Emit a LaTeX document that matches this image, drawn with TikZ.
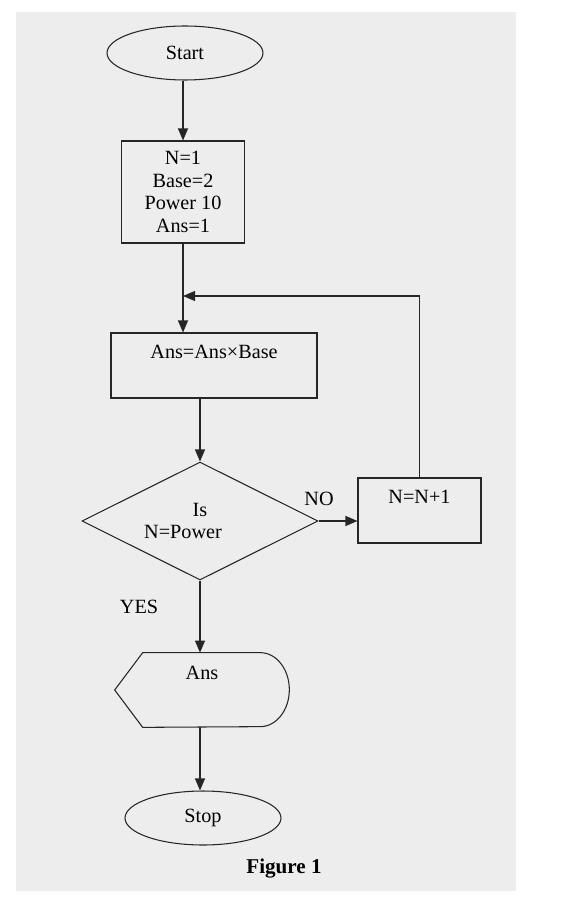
\documentclass[tikz,border=0pt]{standalone}
\usepackage{fontspec}
\setmainfont{Liberation Serif}
\usepackage{tikz}
\usetikzlibrary{shapes.geometric,arrows.meta,calc}
\tikzset{
  flow/.style={draw=black!85, line width=0.6pt},
  term/.style={flow, ellipse, minimum width=3.12cm, minimum height=1.08cm, inner sep=0pt},
  proc/.style={flow, rectangle, inner sep=0pt},
  toptext/.style={text height=0.5cm, text depth=0.8cm},
  arr/.style={flow, -{Triangle[length=0.24cm,width=0.2cm]}},
}

\begin{document}
\begin{tikzpicture}[x=0.02cm, y=-0.02cm, font=\fontsize{11.5}{12.8}\selectfont]
\useasboundingbox (0,0) rectangle (575,915);
\fill[black!7] (16,12) rectangle (516,891);
\node[term] (start) at (185,53) {Start};
\node[proc, minimum width=2.46cm, minimum height=2.04cm, align=center] (init) at (183,192) {N=1\\Base=2\\Power 10\\Ans=1};
\node[proc, toptext, minimum width=4.12cm] (calc) at (214,365.5) {Ans=Ans×Base};
\node[flow, diamond, aspect=2, minimum width=4.72cm, minimum height=2.36cm, inner sep=0pt, align=center] (dec) at (200,521) {Is\\N=Power\hspace*{0.68cm}};
\node[proc, toptext, minimum width=2.46cm] (inc) at (419.5,510.5) {N=N+1};
\node[inner sep=0pt, minimum width=3.48cm, text height=0.52cm, text depth=0.96cm] (out) at (202,690) {Ans};
\draw[flow] (out.west) -- ($(out.north west)+(28,0)$) -- ($(out.north east)+(-29,0)$)
  arc[start angle=90, end angle=-90, x radius=0.58cm, y radius=0.74cm] -- ($(out.south west)+(28,0)$) -- cycle;
\node[term] (stop) at (203,818) {Stop};
\node (no) at (319,499) {NO};
\node (yes) at (139,607) {YES};
\node[font=\fontsize{12}{14}\selectfont\bfseries] (fig) at (284,869) {Figure 1};
\coordinate (join) at (183,296);
\draw[arr] (start.south -| init.north) -- (init.north);
\draw[arr] (init.south) -- (init.south |- calc.north);
\draw[arr] (inc.north) |- (join);
\draw[arr] (calc.south -| dec.north) -- (dec.north);
\draw[arr] (dec.east) -- (dec.east -| inc.west);
\draw[arr] (dec.south) -- (dec.south |- out.north);
\draw[arr] (dec.south |- out.south) -- (dec.south |- stop.north);
\end{tikzpicture}
\end{document}
